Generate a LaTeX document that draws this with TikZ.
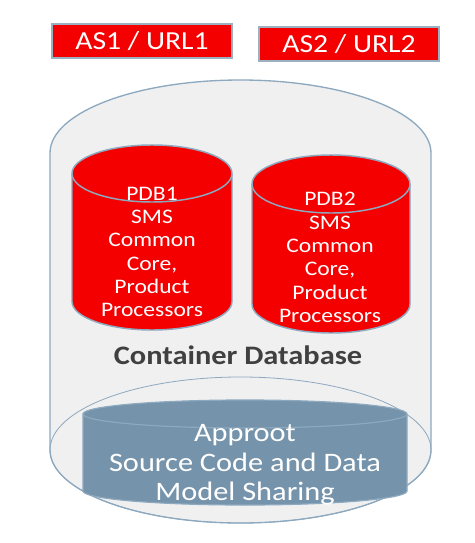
\documentclass[tikz,border=0pt]{standalone}
\usepackage{fontspec}
\setmainfont[FakeStretch=1.14]{Carlito}
\definecolor{redfill}{RGB}{245,0,0}
\definecolor{rimblue}{RGB}{141,169,191}
\definecolor{outerfill}{RGB}{240,240,240}
\definecolor{approotfill}{RGB}{117,147,170}
\definecolor{labelgray}{RGB}{64,64,64}
\definecolor{boxrim}{RGB}{155,176,192}
\begin{document}
\begin{tikzpicture}[x=0.75pt,y=0.75pt,
  asbox/.style={fill=redfill,draw=boxrim,line width=1.2pt,minimum width=135pt,minimum height=25.5pt,inner sep=0pt,text=white,font=\fontsize{19.5pt}{22pt}\selectfont},
  redcyl/.style={fill=redfill,draw=rimblue,line width=1.1pt},
  pdbtext/.style={text=white,align=center,font=\fontsize{15.5pt}{17.5pt}\selectfont,inner sep=0pt},
  outercyl/.style={fill=outerfill,draw=rimblue,line width=1pt},
  approotcyl/.style={fill=approotfill,draw=rimblue,line width=0.9pt},
  approottext/.style={text=white,align=center,font=\fontsize{20pt}{22.1pt}\selectfont,inner sep=0pt},
  cdblabel/.style={text=labelgray,font=\bfseries\fontsize{20pt}{22pt}\selectfont,inner sep=0pt}]
\useasboundingbox (0,0) rectangle (475,-543);

% URL boxes
\node[asbox] (as1) at (142,-41) {AS1 / URL1};
\node[asbox] (as2) at (349,-44) {AS2 / URL2};

% container cylinder
\draw[outercyl] (50,-153) arc[start angle=180,end angle=0,x radius=190.5,y radius=73]
  -- (431,-450) arc[start angle=0,end angle=-180,x radius=190.5,y radius=73] -- cycle;
\draw[rimblue,line width=0.6pt] (240.5,-450) ellipse[x radius=190.5,y radius=73];

% PDB1
\draw[redcyl] (72,-173.5) arc[start angle=180,end angle=0,x radius=80,y radius=28.5]
  -- (232,-301.5) arc[start angle=0,end angle=-180,x radius=80,y radius=28.5] -- cycle;
\draw[rimblue,line width=1.1pt] (72,-173.5) arc[start angle=180,end angle=360,x radius=80,y radius=28.5];
\node[pdbtext] (pdb1) at (152,-252) {PDB1\\SMS\\Common\\Core,\\Product\\Processors};

% PDB2
\draw[redcyl] (252,-184) arc[start angle=180,end angle=0,x radius=79,y radius=29]
  -- (410,-304) arc[start angle=0,end angle=-180,x radius=79,y radius=29] -- cycle;
\draw[rimblue,line width=1.1pt] (252,-184) arc[start angle=180,end angle=360,x radius=79,y radius=29];
\node[pdbtext] (pdb2) at (330,-257.5) {PDB2\\SMS\\Common\\Core,\\Product\\Processors};

% label
\node[cdblabel] (cdb) at (238,-355) {Container Database};

% Approot cylinder
\draw[approotcyl] (83,-414) arc[start angle=180,end angle=0,x radius=162,y radius=14]
  -- (407,-491) arc[start angle=0,end angle=-180,x radius=162,y radius=14] -- cycle;
\draw[rimblue,line width=0.9pt] (83,-414) arc[start angle=180,end angle=360,x radius=162,y radius=14];
\node[approottext] (approot) at (245,-465) {Approot\\Source Code and Data\\Model Sharing};
\end{tikzpicture}
\end{document}
